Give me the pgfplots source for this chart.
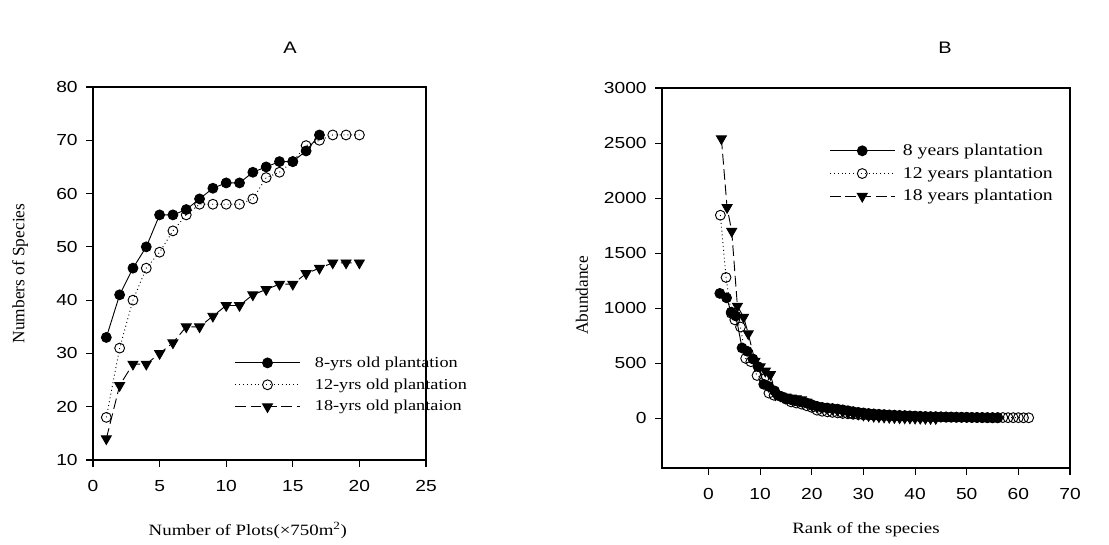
\documentclass[border=0pt]{standalone}
\usepackage{pgfplots}
\pgfplotsset{compat=1.18}
\usepackage{fontspec}
\setmainfont{Liberation Serif}
\newfontfamily\wideserif{Liberation Serif}[FakeStretch=1.2]
\newfontfamily\arial{Liberation Sans}[FakeStretch=1.2]

\pgfplotsset{
  panel/.style={
    scale only axis,
    anchor=north west,
    axis line style={line width=0.8pt},
    tick align=outside,
    xtick pos=bottom, ytick pos=left,
    major tick length=5pt,
    tick style={black, line width=0.8pt},
    /pgf/number format/assume math mode=true,
    /pgf/number format/1000 sep={},
    tick label style={font=\arial\fontsize{12}{14}\selectfont},
    xticklabel style={yshift=-6.5pt},
    yticklabel style={xshift=-3pt},
    xlabel style={font=\wideserif\fontsize{11.8}{14}\selectfont},
    ylabel style={font=\fontsize{13}{15}\selectfont},
    legend style={draw=none, fill=none, font=\wideserif\fontsize{12.3}{14}\selectfont,
      inner sep=0pt, anchor=north west},
    legend cell align=left,
    legend image code/.code={\draw[mark repeat=2,mark phase=2]
      plot coordinates {(0cm,0cm)(0.85cm,0cm)(1.7cm,0cm)};},
  },
  s8/.style={black, line width=0.7pt, solid, mark=*, mark size=3.7pt,
    mark options={solid, fill=black}},
  s12/.style={black, line width=0.7pt, dash pattern=on 0.7pt off 2.2pt,
    mark=o, mark size=3.7pt, mark options={solid, fill=white}},
  s18/.style={black, line width=0.7pt, dash pattern=on 8pt off 3.5pt,
    mark=triangle*, mark size=4.3pt, mark options={solid, fill=black, rotate=180}},
}

\begin{document}
\begin{tikzpicture}
\path[use as bounding box] (0,0) rectangle (831.75pt,-408.75pt);

\node[font=\arial\fontsize{12.5}{14}\selectfont] at (217.5pt,-36pt) {A};
\node[font=\arial\fontsize{12.5}{14}\selectfont] at (708.75pt,-36pt) {B};

% panel A: species accumulation
\begin{axis}[panel,
  at={(69.75pt,-65.25pt)},
  width=249.75pt, height=279.75pt,
  xmin=0, xmax=25, ymin=10, ymax=80,
  xtick={0,5,10,15,20,25},
  ytick={10,20,30,40,50,60,70,80},
  xlabel={Number of Plots(×750m\textsuperscript{2})},
  ylabel={Numbers of Species},
  xlabel style={at={(axis description cs:0.465,-0.188)}, anchor=center},
  ylabel style={at={(axis description cs:-0.219,0.5)}, anchor=center},
  legend style={at={(axis description cs:0.425,0.285)}, row sep=3pt,
    font=\wideserif\fontsize{11.4}{14}\selectfont,
    /tikz/every odd column/.append style={column sep=9pt}},
]
\addplot[s8] coordinates {
  (1,33) (2,41) (3,46) (4,50) (5,56) (6,56) (7,57) (8,59) (9,61) (10,62)
  (11,62) (12,64) (13,65) (14,66) (15,66) (16,68) (17,71)
};
\addplot[s12] coordinates {
  (1,18) (2,31) (3,40) (4,46) (5,49) (6,53) (7,56) (8,58) (9,58) (10,58)
  (11,58) (12,59) (13,63) (14,64) (15,66) (16,69) (17,70) (18,71) (19,71) (20,71)
};
\addplot[s18] coordinates {
  (1,14) (2,24) (3,28) (4,28) (5,30) (6,32) (7,35) (8,35) (9,37) (10,39)
  (11,39) (12,41) (13,42) (14,43) (15,43) (16,45) (17,46) (18,47) (19,47) (20,47)
};
\legend{8-yrs old plantation, 12-yrs old plantation, 18-yrs old plantaion}
\end{axis}

% panel B: rank-abundance
\begin{axis}[panel,
  at={(496.5pt,-66pt)},
  width=306pt, height=285pt,
  xmin=-9, xmax=70, ymin=-450, ymax=3000,
  xtick={0,10,20,30,40,50,60,70},
  ytick={0,500,1000,1500,2000,2500,3000},
  xlabel={Rank of the species},
  ylabel={Abundance},
  xlabel style={at={(axis description cs:0.5,-0.163)}, anchor=center},
  ylabel style={at={(axis description cs:-0.196,0.455)}, anchor=center},
  legend style={at={(axis description cs:0.41,0.86)}, row sep=3pt,
    /tikz/every odd column/.append style={column sep=4pt}},
]
\addplot[s8] coordinates {
  (2.2,1135) (3.5,1095) (4.4,965) (5.3,930) (6.5,640) (7.5,610) (8.6,540)
  (9.6,470) (10.7,310) (11.7,290) (12.8,250) (14,200) (15,180) (16,170)
  (17,160) (18,150) (19,140) (20,125) (21,110) (22,100) (23,95) (24,90)
  (25,85) (26,78) (27,70) (28,62) (29,55) (30,50) (31,45) (32,41) (33,38)
  (34,35) (35,32) (36,30) (37,28) (38,26) (39,24) (40,22) (41,20) (42,18)
  (43,17) (44,16) (45,15) (46,14) (47,13) (48,12) (49,11) (50,10) (51,9)
  (52,8) (53,7) (54,6) (55,5) (56,5)
};
\addplot[s12] coordinates {
  (2.3,1845) (3.4,1280) (4.4,955) (5.1,895) (6.2,830) (7.2,545) (8.2,515)
  (9.4,390) (10.7,360) (11.7,230) (12.7,210) (14,200) (15,175) (16,150)
  (17,140) (18,130) (19,115) (20,100) (21,75) (22,65) (23,60) (24,55)
  (25,50) (26,45) (27,42) (28,38) (29,35) (30,32) (31,30) (32,28) (33,26)
  (34,24) (35,22) (36,20) (37,19) (38,18) (39,17) (40,16) (41,15) (42,14)
  (43,13) (44,12) (45,12) (46,11) (47,11) (48,10) (49,10) (50,10) (51,9)
  (52,9) (53,9) (54,8) (55,8) (56,8) (57,8) (58,7) (59,7) (60,7) (61,6) (62,6)
};
\addplot[s18] coordinates {
  (2.5,2540) (3.6,1915) (4.5,1700) (5.6,1020) (6.8,920) (7.7,770) (9,520)
  (10,470) (11,430) (12,400) (13,215) (14,205) (15,195) (16,185) (17,180)
  (18,170) (19,150) (20,120) (21,105) (22,98) (23,92) (24,85) (25,75)
  (26,65) (27,55) (28,48) (29,40) (30,32) (31,26) (32,20) (33,16) (34,13)
  (35,10) (36,8) (37,6) (38,5) (39,4) (40,3) (41,2) (42,1) (43,0) (44,0)
};
\legend{8 years plantation, 12 years plantation, 18 years plantation}
\end{axis}
\end{tikzpicture}
\end{document}
